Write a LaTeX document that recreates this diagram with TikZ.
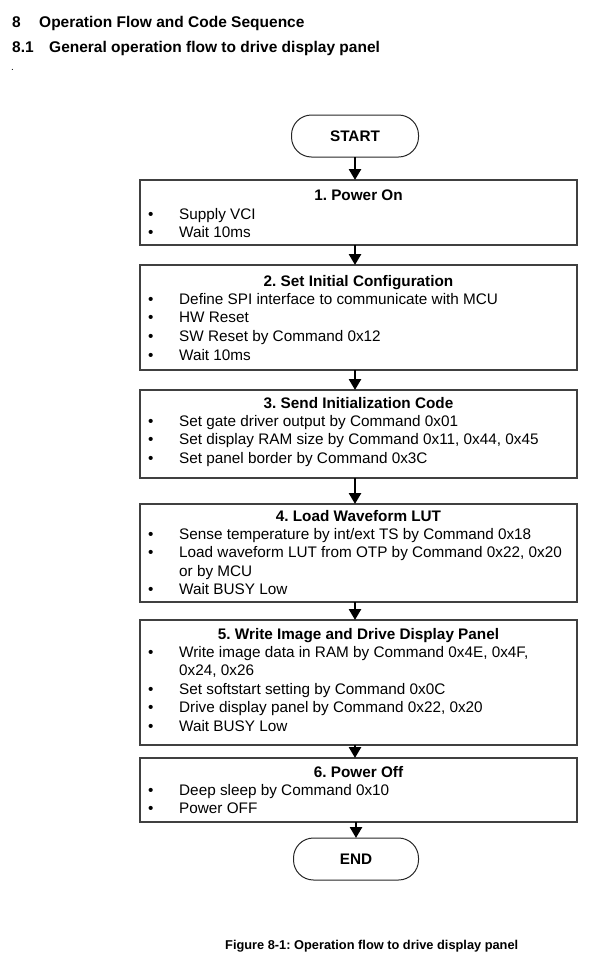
\documentclass[tikz,border=0pt]{standalone}
\usepackage{fontspec}
\setmainfont{Liberation Sans}
\usetikzlibrary{arrows.meta}
\frenchspacing
\newcommand\bodyfont{\fontsize{15.3}{18}\selectfont}
\newcommand\bul[3]{%
  \node[txt] (#1b) at (148,#2) {\textbullet};
  \node[txt] (#1) at (179,#2) {#3};}
\newcommand\cont[3]{\node[txt] (#1) at (179,#2) {#3};}
\begin{document}
\frenchspacing
\begin{tikzpicture}[x=1pt,y=-1pt,
  box/.style={draw=black!75, line width=1.1pt, minimum width=437pt, inner sep=0pt, outer sep=0pt},
  term/.style={draw=black!85, line width=1pt, rounded corners=20pt, minimum height=42pt,
    inner sep=0pt, outer sep=0pt, font=\bodyfont\bfseries},
  arr/.style={line width=2.6pt, -{Triangle[width=12pt,length=11pt]}},
  ttl/.style={anchor=base, inner sep=0pt, font=\bodyfont\bfseries},
  txt/.style={anchor=base west, inner sep=0pt, font=\bodyfont},
  head/.style={anchor=base west, inner sep=0pt, font=\fontsize{15.5}{18}\selectfont\bfseries}
]
\useasboundingbox (0,0) rectangle (593,967);

% headings
\node[head] (h1n) at (12,27) {8};
\node[head] (h1) at (39,27) {Operation Flow and Code Sequence};
\node[head] (h2n) at (12,52.5) {8.1};
\node[head] (h2) at (49,52.5) {General operation flow to drive display panel};
\node[anchor=base west, inner sep=0pt, font=\fontsize{10}{12}\selectfont] (dot) at (11,70) {.};

% terminals
\node[term, minimum width=127pt] (start) at (355,136) {START};
\node[term, minimum width=125pt] (end) at (356,859) {END};

% boxes
\node[box, minimum height=65pt] (b1) at (358.5,212.5) {};
\node[box, minimum height=105pt] (b2) at (358.5,317.5) {};
\node[box, minimum height=88pt] (b3) at (358.5,434) {};
\node[box, minimum height=98pt] (b4) at (358.5,553) {};
\node[box, minimum height=125pt] (b5) at (358.5,682.5) {};
\node[box, minimum height=64pt] (b6) at (358.5,790) {};

% arrows
\draw[arr] (start.south) -- (start.south |- b1.north);
\draw[arr] (b1.south -| start) -- (b2.north -| start);
\draw[arr] (b2.south -| start) -- (b3.north -| start);
\draw[arr] (b3.south -| start) -- (b4.north -| start);
\draw[arr] (b4.south -| start) -- (b5.north -| start);
\draw[arr] (b5.south -| start) -- (b6.north -| start);
\draw[arr] (b6.south -| end) -- (end.north);

% box 1
\node[ttl] (t1) at (358.5,200) {1. Power On};
\bul{l1a}{219}{Supply VCI}
\bul{l1b}{237}{Wait 10ms}

% box 2
\node[ttl] (t2) at (358.5,286) {2. Set Initial Configuration};
\bul{l2a}{304}{Define SPI interface to communicate with MCU}
\bul{l2b}{322.5}{HW Reset}
\bul{l2c}{341.5}{SW Reset by Command 0x12}
\bul{l2d}{360}{Wait 10ms}

% box 3
\node[ttl] (t3) at (358.5,408) {3. Send Initialization Code};
\bul{l3a}{426}{Set gate driver output by Command 0x01}
\bul{l3b}{444.5}{Set display RAM size by Command 0x11, 0x44, 0x45}
\bul{l3c}{463}{Set panel border by Command 0x3C}

% box 4
\node[ttl] (t4) at (358.5,521) {4. Load Waveform LUT};
\bul{l4a}{539}{Sense temperature by int/ext TS by Command 0x18}
\bul{l4b}{557.5}{Load waveform LUT from OTP by Command 0x22, 0x20}
\cont{l4c}{576}{or by MCU}
\bul{l4d}{594.5}{Wait BUSY Low}

% box 5
\node[ttl] (t5) at (358.5,639) {5. Write Image and Drive Display Panel};
\bul{l5a}{657}{Write image data in RAM by Command 0x4E, 0x4F,}
\cont{l5b}{675.5}{0x24, 0x26}
\bul{l5c}{694}{Set softstart setting by Command 0x0C}
\bul{l5d}{712.5}{Drive display panel by Command 0x22, 0x20}
\bul{l5e}{731}{Wait BUSY Low}

% box 6
\node[ttl] (t6) at (358.5,777) {6. Power Off};
\bul{l6a}{795}{Deep sleep by Command 0x10}
\bul{l6b}{813.5}{Power OFF}

% caption
\node[anchor=base west, inner sep=0pt, font=\fontsize{12.8}{15}\selectfont\bfseries] (cap)
  at (225,949.5) {Figure 8-1: Operation flow to drive display panel};
\end{tikzpicture}
\end{document}
